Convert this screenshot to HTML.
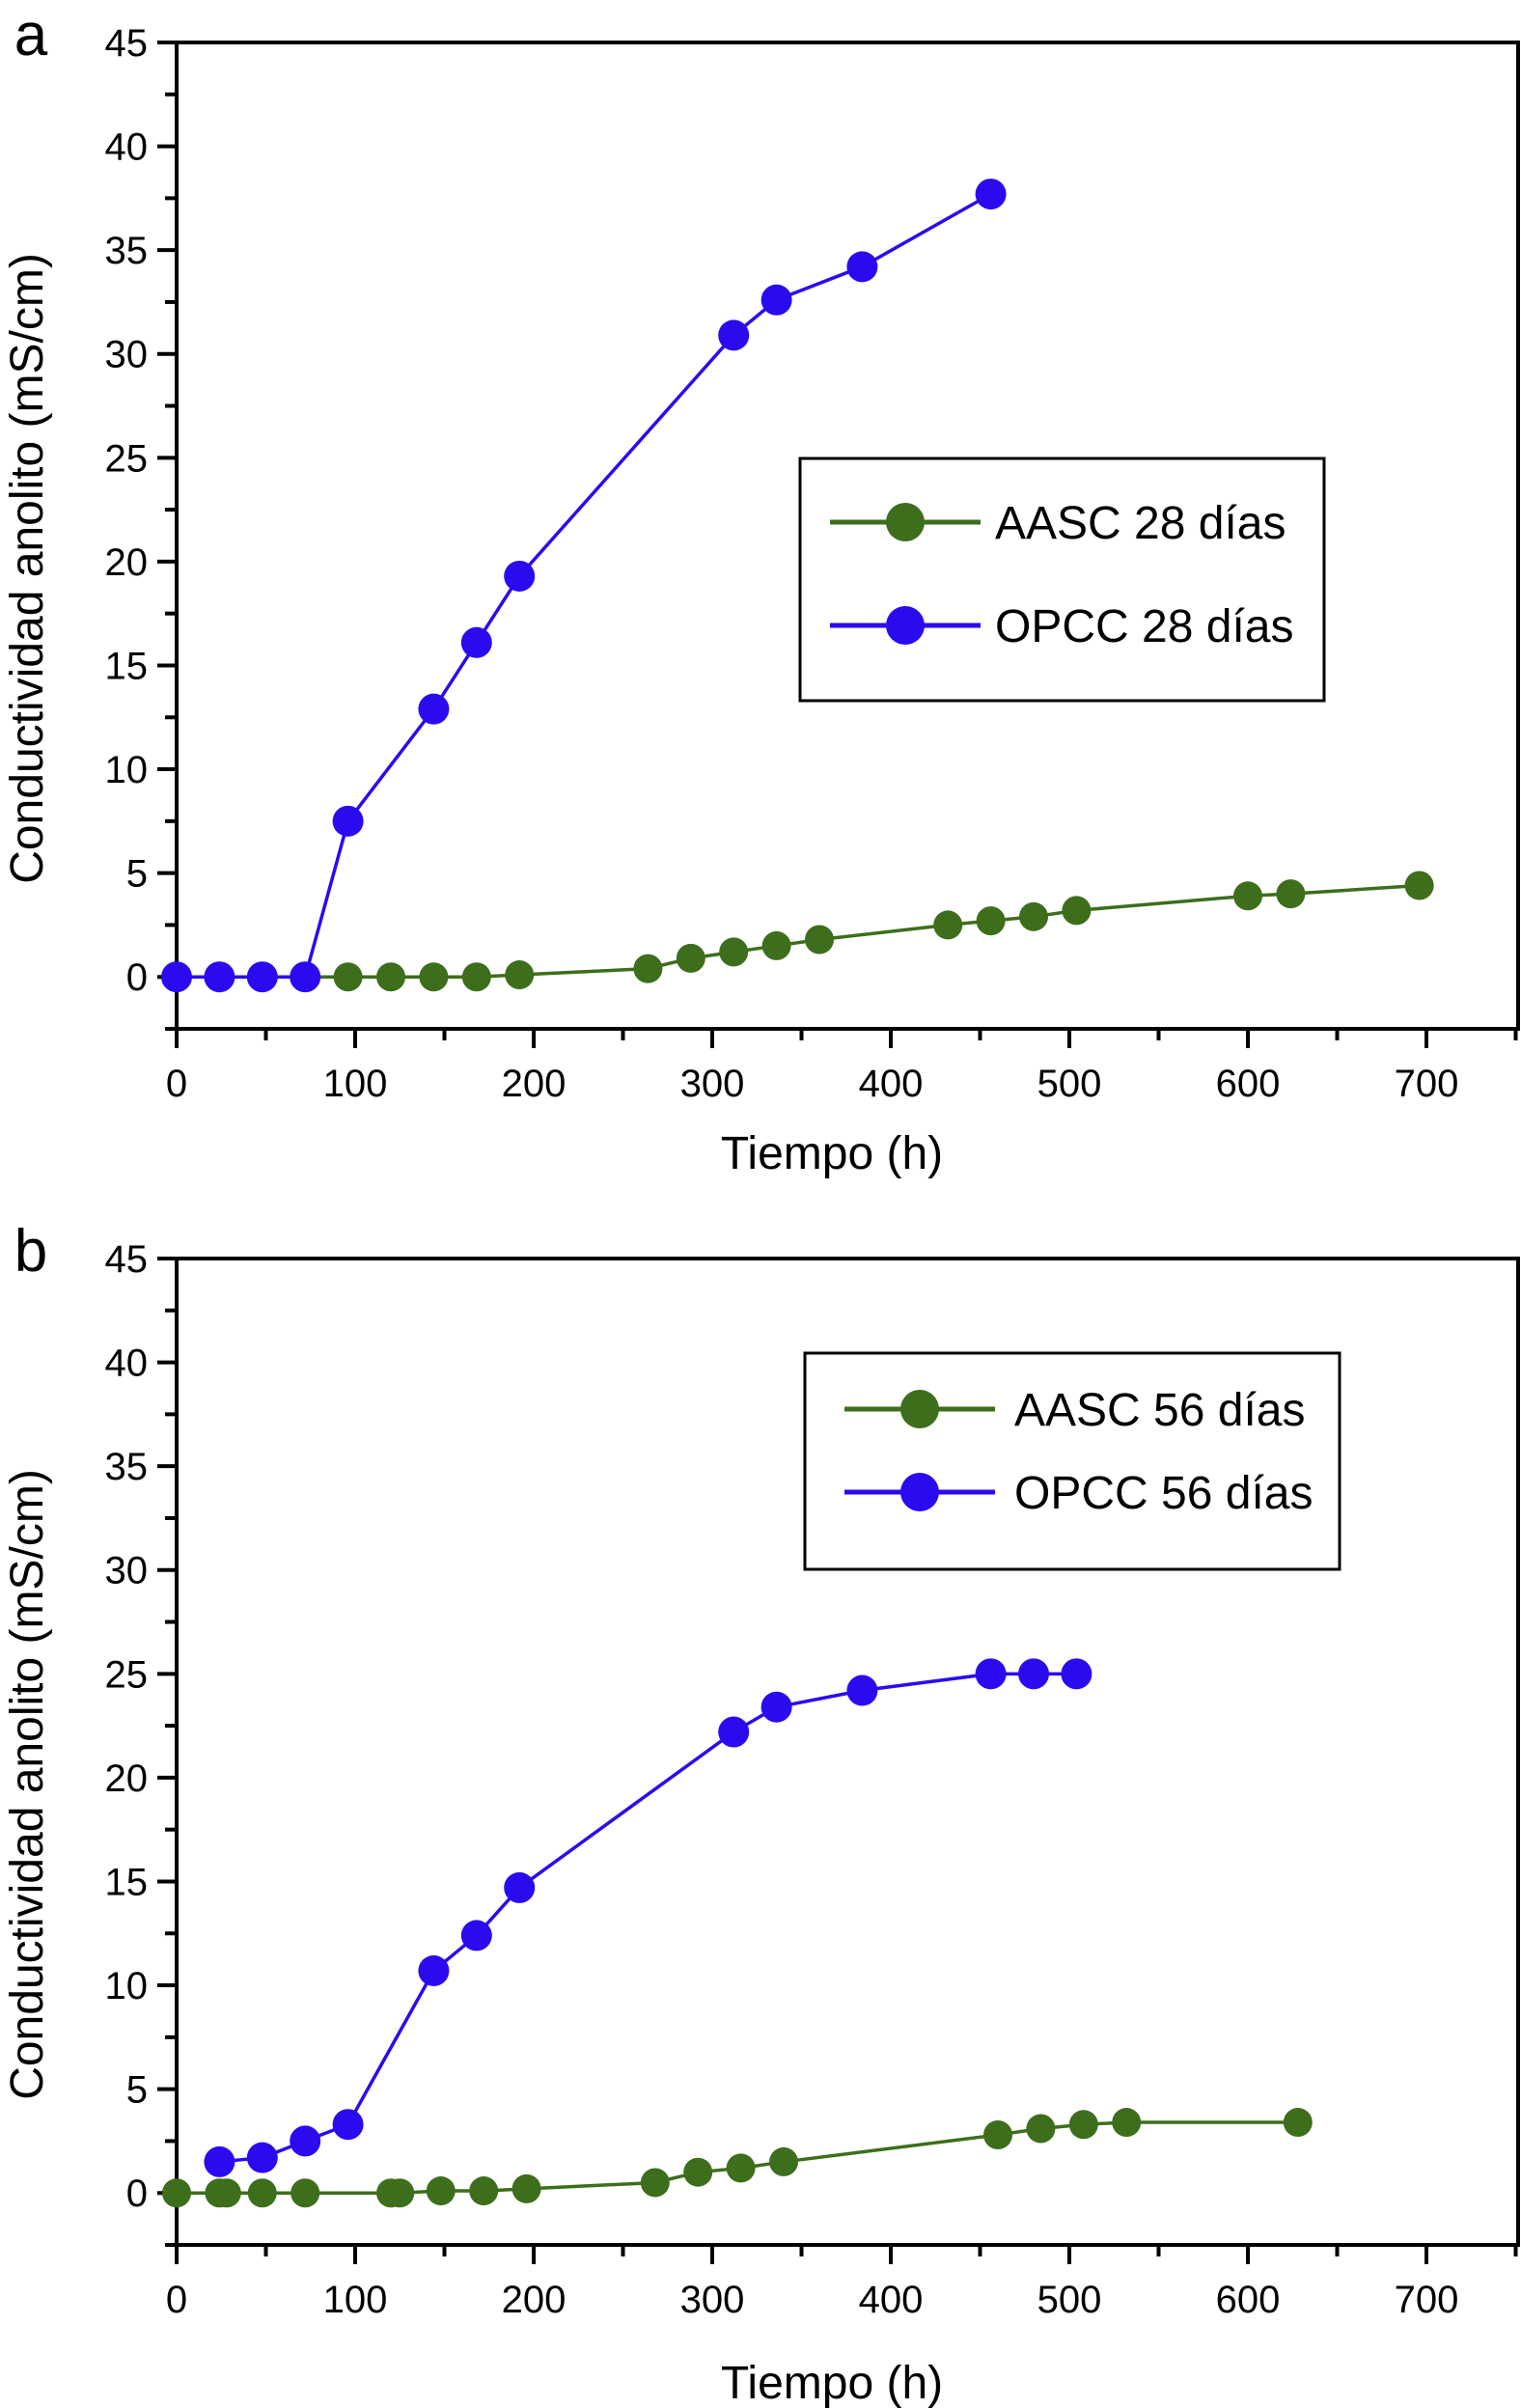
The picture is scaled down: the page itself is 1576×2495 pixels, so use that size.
<!DOCTYPE html>
<html><head><meta charset="utf-8">
<style>
html,body{margin:0;padding:0;background:#fff;}
svg{display:block;font-family:"Liberation Sans",Arial,sans-serif;}
</style></head>
<body>
<svg id="fig" width="1576" height="2495" viewBox="0 0 1576 2495" xmlns="http://www.w3.org/2000/svg"></svg>
<script>
// Panel a data
const aTimes = [0,24,48,72,96,120,144,168,192,264,288,312,336,360,432,456,480,504,600,624,696];
const aValues = [0,0,0,0,0,0,0,0,0.1,0.4,0.9,1.2,1.5,1.8,2.5,2.7,2.9,3.2,3.9,4.0,4.4];
const oTimesA = [0,24,48,72,96,144,168,192,312,336,384,456];
const oValuesA = [0,0,0,0,7.5,12.9,16.1,19.3,30.9,32.6,34.2,37.7];
// Panel b data
const aTimesB = [0,24,28,48,72,120,125,148,172,196,268,292,316,340,460,484,508,532,628];
const aValuesB = [0,0,0,0,0,0,0,0.1,0.1,0.2,0.5,1.0,1.2,1.5,2.8,3.1,3.3,3.4,3.4];
const oTimesB = [24,48,72,96,144,168,192,312,336,384,456,480,504];
const oValuesB = [1.5,1.7,2.5,3.3,10.7,12.4,14.7,22.2,23.4,24.2,25.0,25.0,25.0];
const xTicks = [0,100,200,300,400,500,600,700];
const yTicks = [0,5,10,15,20,25,30,35,40,45];

const NS="http://www.w3.org/2000/svg";
const svg=document.getElementById('fig');
const GREEN="#3d6e1c", BLUE="#2a0bf0";
function mk(tag,attrs,parent){const e=document.createElementNS(NS,tag);for(const k in attrs)e.setAttribute(k,attrs[k]);(parent||svg).appendChild(e);return e;}

function panel(oy,letter,legendLabels,legBox,legRows,legMarkX,legTextX,series,titleY){
  const L=183,R=1573,T=44+oy,B=1066+oy;
  const xMin=0,xMax=(R-L)/185*100,yMin=-2.5,yMax=45;
  const X=v=>L+(v-xMin)/(xMax-xMin)*(R-L);
  const Y=v=>B-(v-yMin)/(yMax-yMin)*(B-T);
  const g=mk('g',{});
  
  
  const lt=mk('text',{x:32,y:35+oy+22,'font-size':62,'text-anchor':'middle'},g);lt.textContent=letter;
  
  
  const fr=mk('rect',{x:L,y:T,width:R-L,height:B-T,fill:'none',stroke:'#000','stroke-width':4},g);
  
  
  for(const t of yTicks){
    const y=Y(t);
    const tk=mk('line',{x1:L-20,x2:L,y1:y,y2:y,stroke:'#000','stroke-width':4},g);
    
    
    const tx=mk('text',{x:L-30,y:y+14,'font-size':40,'text-anchor':'end'},g);tx.textContent=t;
    
    
    if(t<45){const ym=Y(t+2.5);const m=mk('line',{x1:L-12,x2:L,y1:ym,y2:ym,stroke:'#000','stroke-width':4},g);
      
      }
  }
  const ym0=Y(-2.5);
  mk('line',{x1:L-12,x2:L,y1:ym0,y2:ym0,stroke:'#000','stroke-width':4},g);
  for(const t of xTicks){
    const x=X(t);
    const tk=mk('line',{x1:x,x2:x,y1:B,y2:B+20,stroke:'#000','stroke-width':4},g);
    
    
    const tx=mk('text',{x:x,y:B+70,'font-size':40,'text-anchor':'middle'},g);tx.textContent=t;
    
    
    const xm=X(t+50);
    if(xm<=R+1){const m=mk('line',{x1:xm,x2:xm,y1:B,y2:B+12,stroke:'#000','stroke-width':4},g);
      
      }
  }
  const xt=mk('text',{x:862,y:titleY+oy+16,'font-size':48,'text-anchor':'middle'},g);xt.textContent='Tiempo (h)';
  
  
  const yt=mk('text',{x:0,y:0,'font-size':48,'text-anchor':'middle',transform:`translate(${44},${589+oy}) rotate(-90)`},g);yt.textContent='Conductividad anolito (mS/cm)';
  
  
  for(const s of series){
    const pts=s.t.map((t,i)=>X(t)+','+Y(s.v[i])).join(' ');
    const pl=mk('polyline',{points:pts,fill:'none',stroke:s.c,'stroke-width':3.5},g);
    
    
    s.t.forEach((t,i)=>{
      const c=mk('circle',{cx:X(t),cy:Y(s.v[i]),r:s.r,fill:s.c},g);
      
      
    });
  }
  const lg=mk('g',{},g);
  
  
  mk('rect',{x:legBox[0],y:legBox[1]+oy,width:legBox[2]-legBox[0],height:legBox[3]-legBox[1],fill:'#fff',stroke:'#000','stroke-width':3},lg);
  [GREEN,BLUE].forEach((c,i)=>{
    const y=legRows[i]+oy;
    const e=mk('g',{},lg);
    
    
    mk('line',{x1:legMarkX-78,x2:legMarkX+78,y1:y,y2:y,stroke:c,'stroke-width':5},e);
    mk('circle',{cx:legMarkX,cy:y,r:20,fill:c},e);
    const tx=mk('text',{x:legTextX,y:y+17,'font-size':48},e);tx.textContent=legendLabels[i];
  });
}
panel(0,'a',['AASC 28 días','OPCC 28 días'],[829,475,1372,726],[541,648],938,1031,
  [{t:aTimes,v:aValues,c:GREEN,r:15,name:'aasc-28'},{t:oTimesA,v:oValuesA,c:BLUE,r:16,name:'opcc-28'}],1195);
panel(1260,'b',['AASC 56 días','OPCC 56 días'],[834,142,1388,366],[200,286],953,1051,
  [{t:aTimesB,v:aValuesB,c:GREEN,r:15,name:'aasc-56'},{t:oTimesB,v:oValuesB,c:BLUE,r:16,name:'opcc-56'}],1209);
</script>
</body></html>
